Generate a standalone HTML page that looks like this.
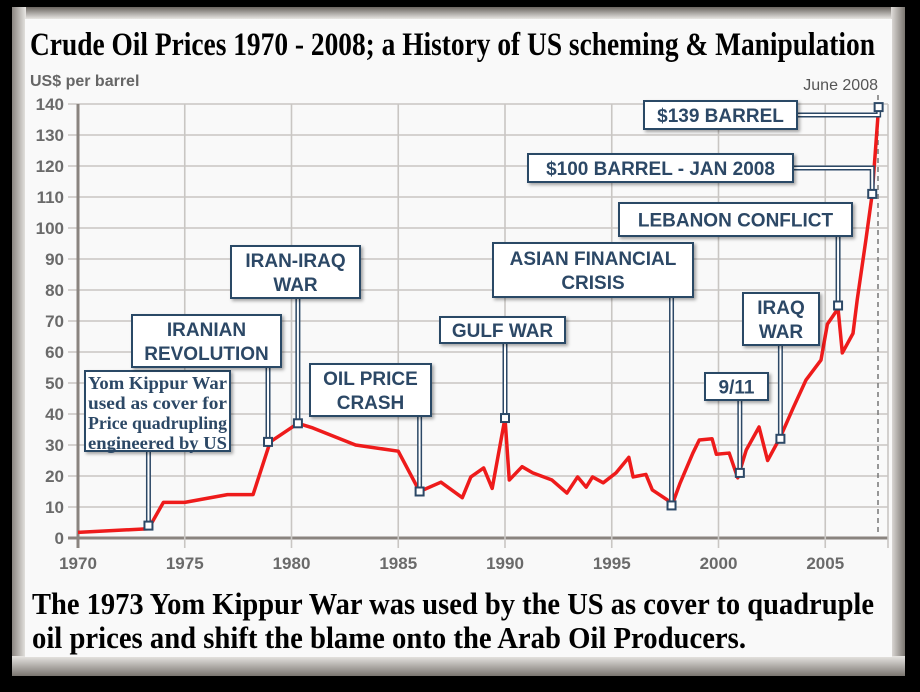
<!DOCTYPE html>
<html><head><meta charset="utf-8">
<style>
html,body{margin:0;padding:0;width:920px;height:692px;overflow:hidden;background:#000;}
svg{display:block;}
.lbl{font-family:"Liberation Sans",sans-serif;font-weight:bold;fill:#2c4866;}
.tick{font-family:"Liberation Sans",sans-serif;font-weight:bold;fill:#6a6a6a;font-size:17px;}
.serif{font-family:"Liberation Serif",serif;font-weight:bold;}
</style></head>
<body>
<svg id="chart" width="920" height="692" viewBox="0 0 920 692">
  <defs>
    <linearGradient id="bevL" x1="0" x2="1"><stop offset="0" stop-color="#8a8580"/><stop offset="1" stop-color="#e8e6e3"/></linearGradient>
    <linearGradient id="bevB" x1="0" y1="0" x2="0" y2="1"><stop offset="0" stop-color="#e8e6e3"/><stop offset="1" stop-color="#7a7570"/></linearGradient>
    <linearGradient id="bevR" x1="0" x2="1"><stop offset="0" stop-color="#e0ddda"/><stop offset="1" stop-color="#7a7570"/></linearGradient>
    <linearGradient id="bevT" x1="0" y1="0" x2="0" y2="1"><stop offset="0" stop-color="#6a6560"/><stop offset="1" stop-color="#e8e6e3"/></linearGradient>
    <filter id="sh" x="-10%" y="-10%" width="130%" height="140%"><feDropShadow dx="2" dy="2" stdDeviation="1.5" flood-color="#000" flood-opacity="0.35"/></filter>
  </defs>
  <rect x="0" y="0" width="920" height="692" fill="#000"/>
  <rect x="12" y="7" width="893" height="669" fill="#c9c6c2"/>
  <rect x="12" y="7" width="893" height="12" fill="url(#bevT)"/>
  <rect x="12" y="7" width="14" height="669" fill="url(#bevL)"/>
  <rect x="891" y="7" width="14" height="669" fill="url(#bevR)"/>
  <rect x="12" y="656" width="893" height="20" fill="url(#bevB)"/>
  <rect x="25" y="19" width="867" height="638" fill="#f9f9f9"/>

  <text x="30" y="55" class="serif" font-size="33" textLength="845" lengthAdjust="spacingAndGlyphs" fill="#000">Crude Oil Prices 1970 - 2008; a History of US scheming &amp; Manipulation</text>
  <text x="30" y="86" font-family="Liberation Sans,sans-serif" font-weight="bold" font-size="16" fill="#666">US$ per barrel</text>
  <text x="878" y="90" text-anchor="end" font-family="Liberation Sans,sans-serif" font-size="16" fill="#555">June 2008</text>

  <g id="grid"></g>
  <g id="series"></g>
  <g id="callouts"></g>

  <text x="32" y="614" class="serif" font-size="31" textLength="842" lengthAdjust="spacingAndGlyphs" fill="#000">The 1973 Yom Kippur War was used  by the US as cover to quadruple</text>
  <text x="32" y="648" class="serif" font-size="31" textLength="714" lengthAdjust="spacingAndGlyphs" fill="#000">oil prices and shift the blame onto the Arab Oil Producers.</text>
</svg>
<script>
const years = [1970,1973.3,1974,1975,1977,1978.2,1979,1980.3,1981,1983,1985,1986,1987,1988,1988.4,1989,1989.4,1990,1990.2,1990.8,1991.3,1992.2,1992.9,1993.4,1993.8,1994.1,1994.6,1995.2,1995.8,1996,1996.6,1996.9,1997.6,1997.8,1998.2,1998.8,1999.1,1999.7,1999.9,2000.5,2000.9,2001.3,2001.9,2002.3,2002.9,2003.5,2004.1,2004.8,2005.1,2005.6,2005.8,2006.3,2006.5,2006.9,2007.2,2007.5];
const prices = [1.8,3,11.5,11.5,14,14,31,37,35.5,30,28,15,18,13,19.7,22.6,16,38.7,18.7,23,21,18.7,14.5,19.7,16.4,19.7,17.8,21,26,19.7,20.5,15.5,12.3,10.2,17.7,27.4,31.6,32,27,27.4,19.4,28.4,35.8,25,32.6,42,51,57.4,69,74,59.7,66,77,96,111,139];
const yTicks = [0,10,20,30,40,50,60,70,80,90,100,110,120,130,140];
const xTicks = [1970,1975,1980,1985,1990,1995,2000,2005];
const calloutLabels = [
  ["Yom Kippur War","used as cover for","Price quadrupling","engineered by US"],
  ["IRANIAN","REVOLUTION"],["IRAN-IRAQ","WAR"],["OIL PRICE","CRASH"],["GULF WAR"],
  ["ASIAN FINANCIAL","CRISIS"],["9/11"],["IRAQ","WAR"],["LEBANON CONFLICT"],
  ["$100 BARREL - JAN 2008"],["$139 BARREL"]
];
const calloutYears = [1973.3,1978.9,1980.3,1986,1990,1997.8,2001,2002.9,2005.6,2007.2,2007.5];
const calloutPrices = [4,31,37,15,38.7,10.5,21,32,75,111,139];

const NS="http://www.w3.org/2000/svg";
const X0=78,X1=888,Y0=538,Y1=104;
const xs = y => X0 + (y-1970)*21.35;
const ys = v => Y0 - v*(Y0-Y1)/140;
function mk(tag,attrs,parent){const e=document.createElementNS(NS,tag);for(const k in attrs)e.setAttribute(k,attrs[k]);parent.appendChild(e);return e;}

const grid=document.getElementById('grid');
yTicks.forEach(t=>{
  const l=mk('line',{x1:68,x2:X1,y1:ys(t),y2:ys(t),stroke:t===0?'#8a847f':'#c9c6c3','stroke-width':t===0?3:1.6},grid);
  
  
  const tx=mk('text',{x:64,y:ys(t)+6,'text-anchor':'end',class:'tick'},grid);
  tx.textContent=t;
  
  
});
xTicks.forEach(t=>{
  const l=mk('line',{x1:xs(t),x2:xs(t),y1:Y1,y2:548,stroke:t===1970?'#8a847f':'#c9c6c3','stroke-width':t===1970?3:1.6},grid);
  
  
  const tx=mk('text',{x:xs(t),y:569,'text-anchor':'middle',class:'tick'},grid);
  tx.textContent=t;
  
  
});
const rl=mk('line',{x1:X1,x2:X1,y1:Y1,y2:548,stroke:'#c9c6c3','stroke-width':1.6},grid);


const dl=mk('line',{x1:878,x2:878,y1:95,y2:532,stroke:'#777','stroke-width':1.5,'stroke-dasharray':'5,4'},grid);



const series=document.getElementById('series');
const p=mk('polyline',{points:years.map((y,i)=>xs(y)+','+ys(prices[i])).join(' '),fill:'none',stroke:'#ee1b1b','stroke-width':3.5,'stroke-linejoin':'round'},series);



const boxes=[[85,371,145,80,'serif'],[132,315,149,52],[231,246,129,52],[310,364,121,52],[440,317,125,26],[493,243,200,54],[705,373,63,27],[743,293,76,52],[619,203,233,33],[528,154,265,28],[644,101,153,28]];
const anchors=['bottom','bottom','bottom','bottom','bottom','bottom','bottom','bottom','bottom','right','right'];
const co=document.getElementById('callouts');
calloutLabels.forEach((lines,i)=>{
  const g=mk('g',{},co);
  
  
  const [bx,by,bw,bh,style]=boxes[i];
  const mx=xs(calloutYears[i]), my=ys(calloutPrices[i]);
  let pts;
  if(anchors[i]==='bottom'){pts=`${mx},${by+bh} ${mx},${my}`;}
  else{const ly=by+bh/2;pts=`${bx+bw},${ly} ${mx},${ly} ${mx},${my}`;}
  mk('polyline',{points:pts,fill:'none',stroke:'#2c4866','stroke-width':5},g);
  mk('polyline',{points:pts,fill:'none',stroke:'#fff','stroke-width':2},g);
  mk('rect',{x:bx,y:by,width:bw,height:bh,fill:'#fff',stroke:'#2c4866','stroke-width':2,filter:'url(#sh)'},g);
  const n=lines.length;
  lines.forEach((ln,j)=>{
    let t;
    if(style==='serif'){
      t=mk('text',{x:bx+3,y:by+18+j*20,class:'serif','font-size':18,fill:'#2c4866',textLength:bw-6,lengthAdjust:'spacingAndGlyphs'},g);
    }else{
      const lh=24;
      t=mk('text',{x:bx+bw/2,y:by+bh/2+7-(n-1)*lh/2+j*lh,'text-anchor':'middle',class:'lbl','font-size':19},g);
    }
    t.textContent=ln;
  });
  mk('rect',{x:mx-4,y:my-4,width:8,height:8,fill:'#fff',stroke:'#2c4866','stroke-width':2},g);
});
</script>
</body></html>
